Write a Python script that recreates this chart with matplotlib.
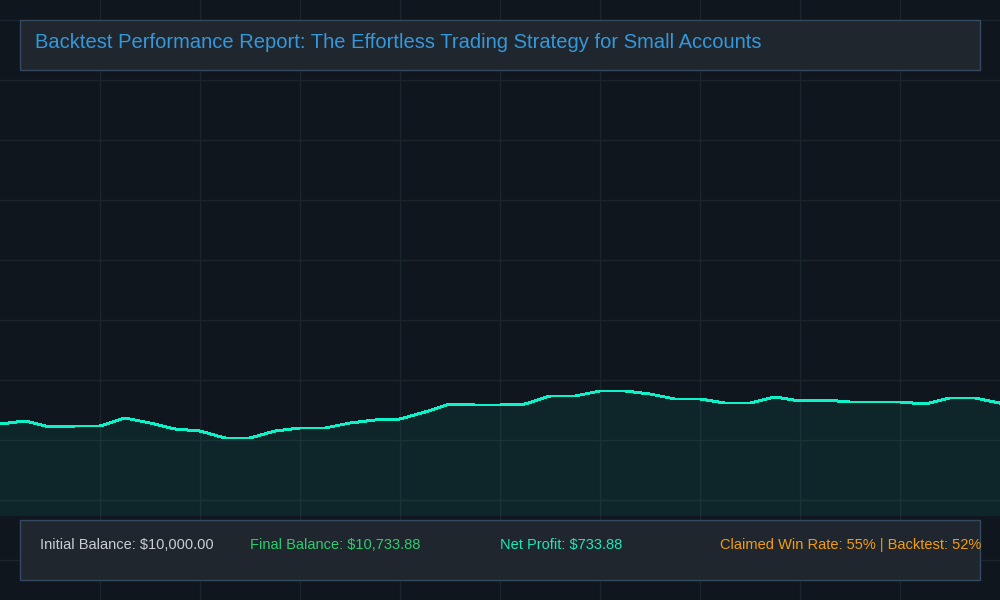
import numpy as np
import matplotlib
matplotlib.use("Agg")
from matplotlib import pyplot as plt
from matplotlib.patches import Rectangle

# Account balance after each period of the backtest
balance = [10000, 10105, 9895, 9930, 9930, 10210, 10035, 9825, 9755, 9510,
           9510, 9755, 9860, 9860, 10035, 10140, 10175, 10420, 10700, 10665,
           10665, 10700, 10980, 10980, 11155, 11155, 11050, 10875, 10875, 10735,
           10735, 10945, 10805, 10840, 10770, 10770, 10770, 10700, 10910, 10910,
           10733.88]
periods = list(range(len(balance)))

title = "Backtest Performance Report: The Effortless Trading Strategy for Small Accounts"
stat_labels = ["Initial Balance: $10,000.00",
               "Final Balance: $10,733.88",
               "Net Profit: $733.88",
               "Claimed Win Rate: 55% | Backtest: 52%"]
stat_colors = ["#c9ced3", "#2ecc71", "#1de9b6", "#f39c12"]
stat_x = [40, 250, 500, 720]

bg = "#0f161e"
line_color = "#0df2c9"
plt.rcParams['font.family'] = ['Liberation Sans', 'DejaVu Sans']

fig = plt.figure(figsize=(10, 6), dpi=100)
fig.patch.set_facecolor(bg)

# background grid in pixel coordinates
ax_bg = fig.add_axes([0, 0, 1, 1])
ax_bg.set_facecolor(bg)
ax_bg.set_xlim(0, 1000)
ax_bg.set_ylim(600, 0)
ax_bg.set_xticks(np.arange(100, 1000, 100))
ax_bg.set_yticks(np.arange(20, 600, 60))
ax_bg.grid(True, color="#1a252d", linewidth=1)
ax_bg.tick_params(length=0, labelbottom=False, labelleft=False)
for s in ax_bg.spines.values():
    s.set_visible(False)

# equity curve
ax = fig.add_axes([0, 84 / 600, 1, 516 / 600])
ax.patch.set_alpha(0)
ax.set_xlim(0, len(balance) - 1)
ax.set_ylim(6780, 24840)
ax.fill_between(periods, balance, 6780, color=line_color, alpha=0.07, linewidth=0)
ax.plot(periods, balance, color=line_color, linewidth=1.4, antialiased=False)
ax.axis("off")

# title box
fig.patches.append(Rectangle((20 / 1000, 1 - 70 / 600), 960 / 1000, 50 / 600,
                             transform=fig.transFigure, facecolor="#1f262e",
                             edgecolor="#34495e", linewidth=1, zorder=5))
fig.text(35 / 1000, 1 - 43 / 600, title, color="#3498db", fontsize=14.5,
         va="center", ha="left", zorder=6)

# stats box
fig.patches.append(Rectangle((20 / 1000, 1 - 580 / 600), 960 / 1000, 60 / 600,
                             transform=fig.transFigure, facecolor="#1f262e",
                             edgecolor="#34495e", linewidth=1, zorder=5))
for label, color, x in zip(stat_labels, stat_colors, stat_x):
    fig.text(x / 1000, 1 - 545 / 600, label, color=color, fontsize=10.5,
             va="center", ha="left", zorder=6)

fig.savefig("out.png", dpi=100, facecolor=bg)
